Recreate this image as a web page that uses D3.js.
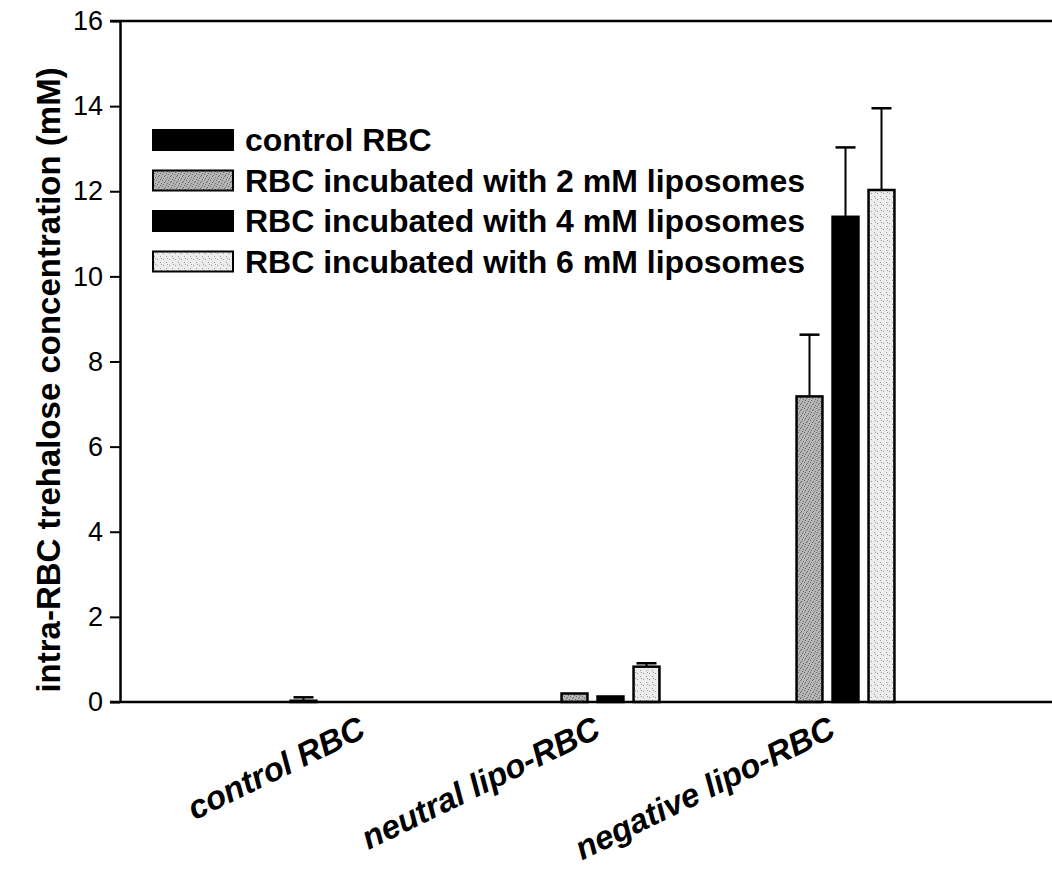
<!DOCTYPE html>
<html>
<head>
<meta charset="utf-8">
<script src="https://cdn.jsdelivr.net/npm/d3@7/dist/d3.min.js"></script>
<style>
  html, body { margin: 0; padding: 0; background: #fff; }
  svg { display: block; font-family: Arial, "Liberation Sans", Helvetica, sans-serif; }
</style>
</head>
<body>
<svg id="chart" width="1052" height="872"></svg>
<script>
// ---- data ----
const categories = ["control RBC", "neutral lipo-RBC", "negative lipo-RBC"];
const seriesNames = [
  "control RBC",
  "RBC incubated with 2 mM liposomes",
  "RBC incubated with 4 mM liposomes",
  "RBC incubated with 6 mM liposomes"
];
const controlValues = [0.03, null, null];
const lipo2Values   = [null, 0.20, 7.18];
const lipo4Values   = [null, 0.13, 11.40];
const lipo6Values   = [null, 0.83, 12.03];
const controlErrors = [0.08, null, null];
const lipo2Errors   = [null, 0, 1.45];
const lipo4Errors   = [null, 0, 1.63];
const lipo6Errors   = [null, 0.08, 1.92];
const yTicks = [0, 2, 4, 6, 8, 10, 12, 14, 16];
const yTitle = "intra-RBC trehalose concentration (mM)";

const seriesValues = [controlValues, lipo2Values, lipo4Values, lipo6Values];
const seriesErrors = [controlErrors, lipo2Errors, lipo4Errors, lipo6Errors];

// ---- layout ----
const svg = d3.select("#chart");
const plotLeft = 120, plotRight = 1052, plotTop = 21, plotBottom = 702;

// textures
const defs = svg.append("defs");
function speckle(id, base, dot, cells) {
  const p = defs.append("pattern").attr("id", id).attr("patternUnits", "userSpaceOnUse")
    .attr("width", 6).attr("height", 6);
  p.append("rect").attr("width", 6).attr("height", 6).attr("fill", base);
  cells.forEach(c => p.append("rect").attr("x", c[0]).attr("y", c[1]).attr("width", 1).attr("height", 1).attr("fill", dot));
}
speckle("pat2", "#b4b4b4", "#6e6e6e", [[0,0],[3,1],[5,3],[1,4],[4,5],[2,2]]);
speckle("pat6", "#ececec", "#9a9a9a", [[1,1],[4,4],[5,0]]);
const fills = ["#000", "url(#pat2)", "#000", "url(#pat6)"];

const y = d3.scaleLinear().domain([0, 16]).range([plotBottom, plotTop]);
const x0 = d3.scaleBand().domain(categories).range([240, 945]).paddingInner(0).paddingOuter(0);
const x1 = d3.scaleBand().domain(seriesNames).range([-72, 72]).paddingInner(0.28).paddingOuter(0.14);

// bars
const barData = [];
seriesNames.forEach((s, si) => {
  categories.forEach((c, ci) => {
    const v = seriesValues[si][ci];
    if (v !== null) barData.push({ s, si, c, v, e: seriesErrors[si][ci] });
  });
});

const g = svg.append("g");

// error bars (upper only)
const errG = g.append("g");
barData.filter(d => d.e > 0).forEach(d => {
  const cx = x0(d.c) + x0.bandwidth() / 2 + x1(d.s) + x1.bandwidth() / 2;
  errG.append("line").attr("x1", cx).attr("x2", cx).attr("y1", y(d.v)).attr("y2", y(d.v + d.e))
    .attr("stroke", "#000").attr("stroke-width", 2);
  errG.append("line").attr("x1", cx - 10).attr("x2", cx + 10).attr("y1", y(d.v + d.e)).attr("y2", y(d.v + d.e))
    .attr("stroke", "#000").attr("stroke-width", 2.5);
});

g.append("g").selectAll("rect").data(barData).join("rect")
  .attr("x", d => x0(d.c) + x0.bandwidth() / 2 + x1(d.s))
  .attr("width", x1.bandwidth())
  .attr("y", d => y(d.v))
  .attr("height", d => y(0) - y(d.v))
  .attr("fill", d => fills[d.si])
  .attr("stroke", "#000")
  .attr("stroke-width", 2.5);

// y axis
const yAxis = g.append("g").attr("transform", `translate(${plotLeft},0)`)
  .call(d3.axisLeft(y).tickValues(yTicks).tickSize(10).tickSizeOuter(0).tickPadding(7));
yAxis.select(".domain").attr("stroke-width", 2.5);
yAxis.selectAll(".tick line").attr("stroke-width", 2);
yAxis.selectAll(".tick text").attr("font-size", 27).attr("fill", "#000")
  .attr("font-family", "Arial, 'Liberation Sans', sans-serif");

// x axis (bottom line) and top line
const xAxis = g.append("g").attr("transform", `translate(0,${plotBottom})`)
  .call(d3.axisBottom(x0).tickSize(0).tickFormat(""));
xAxis.select(".domain").remove();
g.append("line").attr("x1", plotLeft - 10).attr("x2", plotRight).attr("y1", plotBottom).attr("y2", plotBottom)
  .attr("stroke", "#000").attr("stroke-width", 2.5);
g.append("line").attr("x1", plotLeft - 10).attr("x2", plotRight).attr("y1", plotTop).attr("y2", plotTop)
  .attr("stroke", "#000").attr("stroke-width", 2.5);

// x category labels (rotated)
g.append("g").selectAll("text").data(categories).join("text")
  .attr("transform", c => `translate(${x0(c) + x0.bandwidth() / 2 + 10},${plotBottom + 34}) rotate(-26)`)
  .attr("text-anchor", "end")
  .attr("font-size", 33)
  .attr("font-weight", "bold")
  .attr("font-style", "italic")
  .attr("fill", "#000")
  .text(c => c);

// y title
svg.append("text")
  .attr("transform", `translate(60,380) rotate(-90)`)
  .attr("text-anchor", "middle")
  .attr("font-size", 33)
  .attr("font-weight", "bold")
  .text(yTitle);

// legend
const legend = svg.append("g");
seriesNames.forEach((s, i) => {
  const cy = 140 + i * 40.5;
  legend.append("rect").attr("x", 153).attr("y", cy - 10).attr("width", 80).attr("height", 20)
    .attr("fill", fills[i]).attr("stroke", "#000").attr("stroke-width", 2);
  legend.append("text").attr("x", 245).attr("y", cy + 11)
    .attr("font-size", 32).attr("font-weight", "bold").text(s);
});
</script>
</body>
</html>
